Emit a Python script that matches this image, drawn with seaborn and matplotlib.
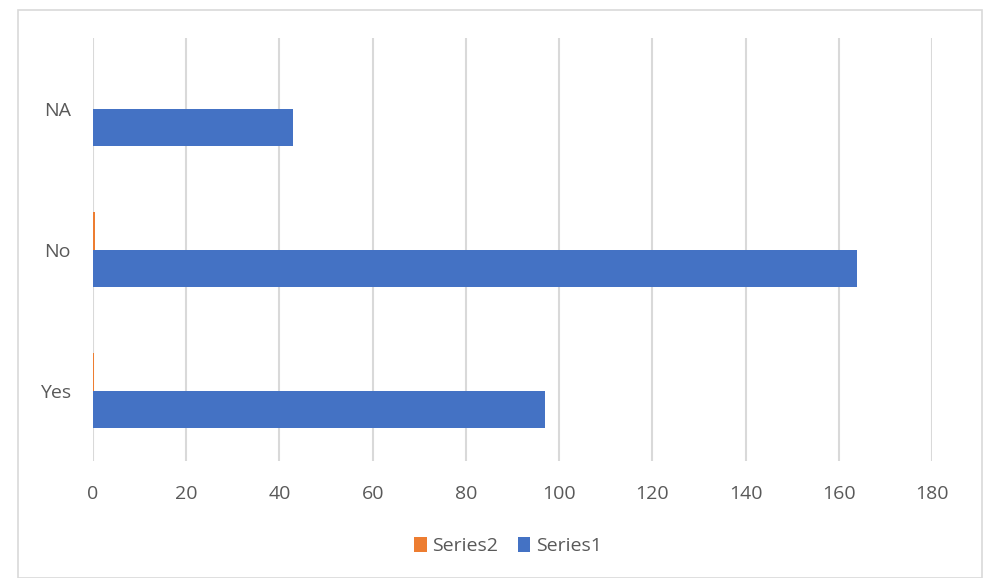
import matplotlib
matplotlib.use("Agg")
import matplotlib.pyplot as plt
from matplotlib.patches import Rectangle
import seaborn as sns
import pandas as pd

categories = ["NA", "No", "Yes"]
series1 = [43, 164, 97]
series2 = [0, 0.5, 0.3]
x_ticks = [0, 20, 40, 60, 80, 100, 120, 140, 160, 180]

df = pd.DataFrame({
    "category": categories * 2,
    "value": series2 + series1,
    "series": ["Series2"] * 3 + ["Series1"] * 3,
})

sns.set_theme(style="white")
plt.rcParams["font.family"] = ["Open Sans", "DejaVu Sans"]

W, H = 984, 578
fig = plt.figure(figsize=(W / 100, H / 100), dpi=100)
ax = fig.add_axes([93 / W, (H - 461) / H, (932 - 93) / W, (461 - 38) / H])

palette = {"Series2": "#ED7D31", "Series1": "#4472C4"}
sns.barplot(data=df, y="category", x="value", hue="series",
            order=categories, hue_order=["Series2", "Series1"],
            palette=palette, orient="h", width=0.525, saturation=1,
            ax=ax, zorder=3, linewidth=0)

ax.set_xlim(0, 180)
ax.set_ylim(2.5, -0.5)
ax.set_xticks(x_ticks)
ax.set_xticklabels([str(t) for t in x_ticks])
ax.grid(axis="x", color="#D9D9D9", linewidth=1.5, zorder=0)
ax.grid(axis="y", visible=False)
for s in ax.spines.values():
    s.set_visible(False)
ax.set_xlabel("")
ax.set_ylabel("")
ax.tick_params(axis="both", length=0, labelsize=14, labelcolor="#595959")
ax.tick_params(axis="x", pad=17)
ax.tick_params(axis="y", pad=16)

handles, labels = ax.get_legend_handles_labels()
ax.legend_.remove()
fig.legend(handles, labels, loc="center", bbox_to_anchor=(508 / W, 1 - 546 / H),
           ncol=2, frameon=False, fontsize=14, labelcolor="#595959",
           handlelength=0.65, handleheight=0.85, handletextpad=0.3,
           columnspacing=1.0)

fig.patches.append(Rectangle((18 / W, 0), (982 - 18) / W, (H - 10) / H,
                             transform=fig.transFigure, fill=False,
                             edgecolor="#D9D9D9", linewidth=1.2))

fig.savefig("out.png", dpi=100, facecolor="white")
